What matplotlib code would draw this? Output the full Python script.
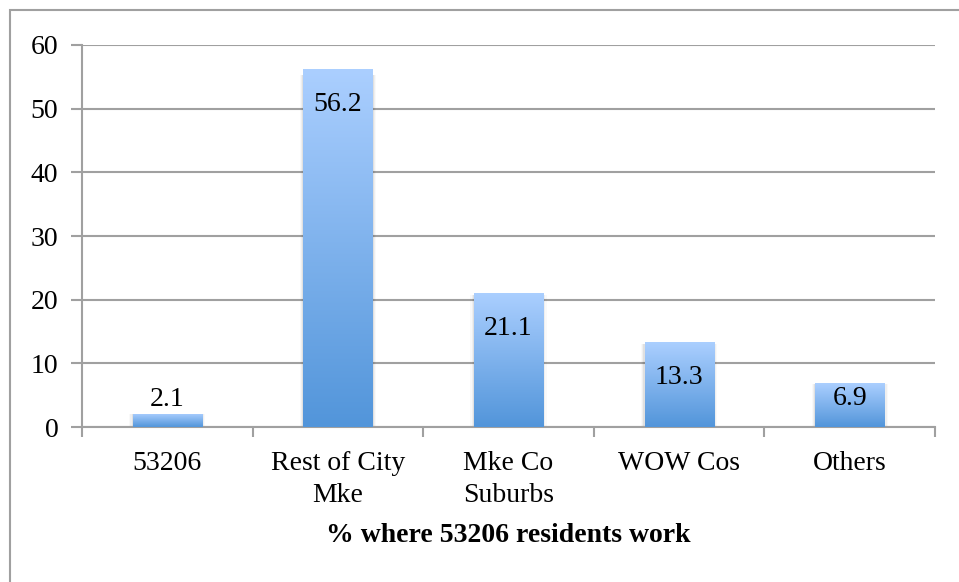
import matplotlib.pyplot as plt
from matplotlib.patches import Rectangle
from matplotlib.colors import LinearSegmentedColormap
import numpy as np

categories = ['53206', 'Rest of City\nMke', 'Mke Co\nSuburbs', 'WOW Cos', 'Others']
values = [2.1, 56.2, 21.1, 13.3, 6.9]
y_ticks = [0, 10, 20, 30, 40, 50, 60]
x_title = '% where 53206 residents work'

plt.rcParams['font.family'] = ['Liberation Serif', 'DejaVu Serif']
grid_gray = '#a0a0a0'
grad = LinearSegmentedColormap.from_list('bar', ['#5295da', '#abcfff'])
fs = 20

fig = plt.figure(figsize=(9.59, 5.82), dpi=100)
ax = fig.add_axes([0.0855, 0.2663, 0.8895, 0.6564])

# outer chart frame (cut by the image on right and bottom)
fig.patches.append(Rectangle((10 / 959, -0.1), 1.2, 1.1 - 10 / 582, transform=fig.transFigure,
                             fill=False, edgecolor=grid_gray, linewidth=1.5, zorder=0))

x = np.arange(len(values))
bars = ax.bar(x, values, width=0.405, color='none', edgecolor='none', zorder=3)
for b in bars:
    x0, y0, w, h = b.get_x(), b.get_y(), b.get_width(), b.get_height()
    # soft shadow on the sides
    for i, a in enumerate([0.06, 0.04, 0.025]):
        ax.add_patch(Rectangle((x0 - 0.007 * (i + 1), y0), w + 0.014 * (i + 1), h * 0.985,
                               facecolor='black', alpha=a, edgecolor='none', zorder=2))
    im = ax.imshow(np.linspace(0, 1, 256).reshape(-1, 1), cmap=grad, aspect='auto',
                   extent=[x0, x0 + w, y0, y0 + h], origin='lower', zorder=3)
    im.set_clip_path(b)

for xi, v in zip(x, values):
    if v > 10:
        off = -25.5
    elif v > 5:
        off = -11
    else:
        off = 10.5
    ax.annotate(f'{v}', (xi, v), xytext=(0, off), textcoords='offset points',
                ha='center', va='center', fontsize=fs, zorder=5)

ax.set_xlim(-0.5, len(values) - 0.5)
ax.set_ylim(0, 60)
ax.set_yticks(y_ticks)
ax.yaxis.grid(True, color=grid_gray, linewidth=1.5)
ax.set_axisbelow(True)
ax.set_xticks(x)
ax.set_xticklabels(categories, fontsize=fs, linespacing=1.33)
ax.set_xticks(np.arange(len(values) + 1) - 0.5, minor=True)
ax.tick_params(axis='x', which='major', length=0, pad=17.5)
ax.tick_params(axis='x', which='minor', length=7, width=1.5, color=grid_gray)
ax.tick_params(axis='y', length=8, width=1.5, color=grid_gray, pad=9, labelsize=fs)
for s in ['top', 'right']:
    ax.spines[s].set_visible(False)
for s in ['left', 'bottom']:
    ax.spines[s].set_color(grid_gray)
    ax.spines[s].set_linewidth(1.5)
ax.set_xlabel(x_title, fontsize=fs, fontweight='bold', labelpad=11)

fig.savefig('out.png', dpi=100)
